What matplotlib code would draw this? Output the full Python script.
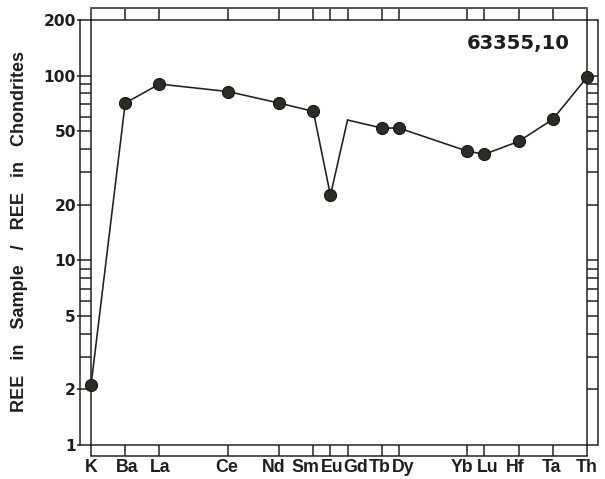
import matplotlib
matplotlib.use("Agg")
import matplotlib.pyplot as plt
from matplotlib.lines import Line2D
from matplotlib.ticker import FixedLocator, NullFormatter, FixedFormatter
from matplotlib.transforms import blended_transform_factory, ScaledTranslation

# ---- data ----
elements = ["K", "Ba", "La", "Ce", "Nd", "Sm", "Eu", "Gd", "Tb", "Dy",
            "Yb", "Lu", "Hf", "Ta", "Th"]
element_slots = [0, 2, 4, 8, 11, 13, 14, 15, 17, 18, 22, 23, 25, 27, 29]
ratios = [2.1, 71, 90, 82, 71, 64, 22.5, 57.5, 52, 52, 39, 37.5, 44, 58, 98]
measured = [True, True, True, True, True, True, True, False,
            True, True, True, True, True, True, True]
y_major = [1, 2, 5, 10, 20, 50, 100, 200]
y_major_labels = ["1", "2", "5", "10", "20", "50", "100", "200"]
y_minor = [3, 4, 6, 7, 8, 9, 30, 40, 60, 70, 80, 90]
sample_label = "63355,10"
y_title = "REE   in   Sample   /   REE   in   Chondrites"

# small horizontal nudges (pixels) of crowded element labels, as in the original
label_nudge_px = [0, 2, 1, -1, -5, -8, 1.5, 8, -2, 4, -5, 3, -3, -1, 0]

plt.rcParams['font.family'] = ['Liberation Sans', 'DejaVu Sans']

W, H = 605, 479
DPI = 100
fig = plt.figure(figsize=(W / DPI, H / DPI), dpi=DPI)
px = 72.0 / DPI  # points per pixel
INK = "#1e1e1e"
LW = 1.5 * px

L, R, T, B = 91, 587, 20, 445       # inner frame (pixels)
OL, OR, OT, OB = 80, 598, 8, 456    # outer strip lines (pixels)

ax = fig.add_axes([L / W, 1 - B / H, (R - L) / W, (B - T) / H])
ax.set_yscale('log')
ax.set_ylim(1, 200)
ax.set_xlim(element_slots[0], element_slots[-1])

for s in ax.spines.values():
    s.set_linewidth(LW)
    s.set_color(INK)

# x ticks (bottom & top strips)
ax.xaxis.set_major_locator(FixedLocator(element_slots))
ax.xaxis.set_major_formatter(NullFormatter())
ax.tick_params(axis='x', which='both', direction='out', top=True, bottom=True,
               length=11.5 * px, width=LW, color=INK, labelbottom=False)

xlab_font = dict(family=['Liberation Sans Narrow', 'Liberation Sans', 'DejaVu Sans'],
                 fontweight='bold', fontsize=12.8, color=INK)
base = blended_transform_factory(ax.transData, fig.transFigure)
for slot, name, dx in zip(element_slots, elements, label_nudge_px):
    tr = base + ScaledTranslation(dx / DPI, 0, fig.dpi_scale_trans)
    ax.text(slot, 1 - 468 / H, name, transform=tr, ha='center', va='center',
            **xlab_font)

# y ticks (left strip)
ax.yaxis.set_major_locator(FixedLocator(y_major))
ax.yaxis.set_major_formatter(FixedFormatter(y_major_labels))
ax.yaxis.set_minor_locator(FixedLocator(y_minor))
ax.yaxis.set_minor_formatter(NullFormatter())
ax.tick_params(axis='y', which='major', direction='out', left=True, right=False,
               length=14 * px, width=LW, color=INK, pad=1.0 * px,
               labelsize=11.2, labelcolor=INK)
ax.tick_params(axis='y', which='minor', direction='out', left=True, right=False,
               length=11 * px, width=LW, color=INK)
for lab in ax.get_yticklabels():
    lab.set_family(['DejaVu Sans'])
    lab.set_fontweight('bold')

# right strip via twin axis
ax2 = ax.twinx()
ax2.set_yscale('log')
ax2.set_ylim(1, 200)
ax2.yaxis.set_major_locator(FixedLocator(y_major))
ax2.yaxis.set_minor_locator(FixedLocator(y_minor))
ax2.yaxis.set_major_formatter(NullFormatter())
ax2.yaxis.set_minor_formatter(NullFormatter())
ax2.tick_params(axis='y', which='both', direction='out', right=True, left=False,
                length=11 * px, width=LW, color=INK)
for s in ax2.spines.values():
    s.set_visible(False)

# outer strip lines
def fline(x0, y0, x1, y1):
    fig.add_artist(Line2D([x0 / W, x1 / W], [1 - y0 / H, 1 - y1 / H],
                          transform=fig.transFigure, color=INK, lw=LW,
                          solid_capstyle='projecting'))

fline(OL, T, OL, B)
fline(OR, T, OR, B)
fline(L, OT, R, OT)
fline(L, OB, R, OB)

# data line
mk_idx = [i for i, m in enumerate(measured) if m]
ax.plot(element_slots, ratios, color=INK, lw=1.6 * px, zorder=3,
        clip_on=False, solid_joinstyle='miter')
ax.plot([element_slots[i] for i in mk_idx], [ratios[i] for i in mk_idx],
        ls='none', marker='o', ms=12 * px, mfc="#2e2b25", mec="#151515",
        mew=0.8, zorder=4, clip_on=False)

fig.text(518 / W, 1 - 43 / H, sample_label, ha='center', va='center',
         fontsize=14.1, fontweight='bold', color=INK, family=['DejaVu Sans'])
fig.text(20 / W, 1 - 231 / H, y_title, rotation=90, ha='center', va='center',
         fontsize=13, fontweight='bold', color=INK)

fig.savefig("out.png", dpi=DPI, facecolor='white')
